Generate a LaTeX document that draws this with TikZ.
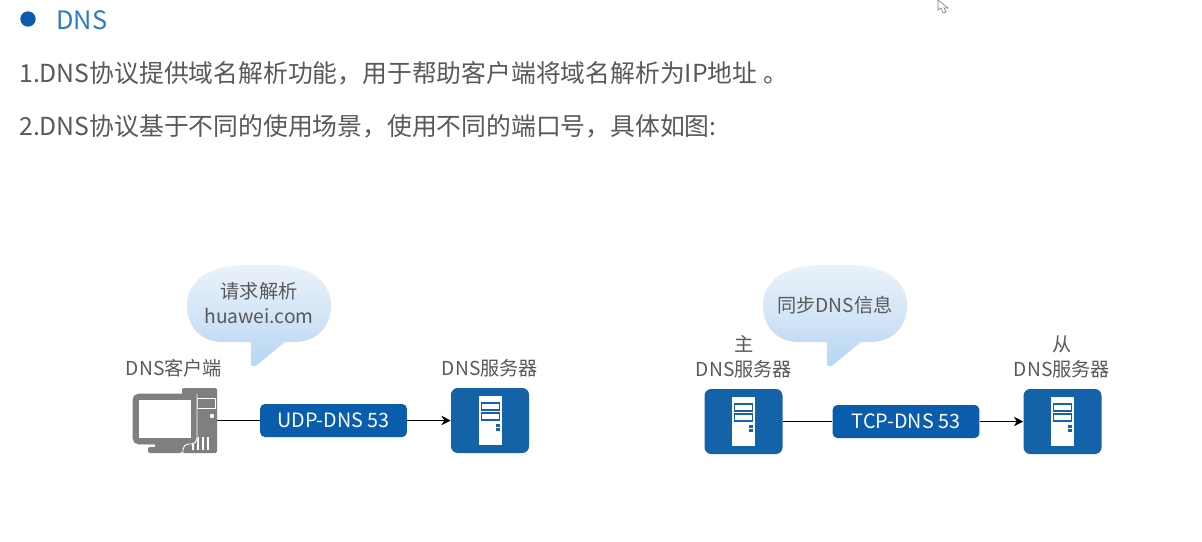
\documentclass[tikz,border=0pt]{standalone}
\usepackage{fontspec}
\setmainfont{Noto Sans CJK SC}
\usetikzlibrary{arrows.meta}
\definecolor{blu}{HTML}{0A5DAC}
\definecolor{srv}{HTML}{1463A9}
\definecolor{pcg}{HTML}{7F7F7F}
\definecolor{txt}{HTML}{595959}
\definecolor{hdr}{HTML}{2B7CC2}
\definecolor{btop}{HTML}{EAF2FA}
\definecolor{bmid}{HTML}{D3E5F6}
\definecolor{bbot}{HTML}{B4D5F3}
\tikzset{
 x=0.75pt,y=-0.75pt,
 pagetext/.style={anchor=west,inner sep=0pt,text=txt,font=\fontsize{18.6}{20}\selectfont},
 lab/.style={align=center,inner sep=0pt,text=txt,font=\fontsize{14.4}{18.5}\selectfont},
 tag/.style={fill=blu,rounded corners=3.5pt,inner sep=0pt,minimum width=110pt,minimum height=24.75pt,text=white,font=\fontsize{14.8}{16}\selectfont},
 srvbox/.style={fill=srv,rounded corners=5pt,inner sep=0pt,minimum width=58.5pt,minimum height=48.75pt},
 link/.style={draw=black,line width=1.3pt},
 arrowlink/.style={link,-{Stealth[length=7pt,width=7pt,inset=2.2pt]}},
 bubble/.style={top color=btop,bottom color=bbot,middle color=bmid,draw=none},
}
\newcommand{\servericon}[2]{%
 \begin{scope}[shift={(#1,#2)}]
  \fill[white] (-11.5,-24.5) rectangle (11.5,24.5);
  \draw[srv,line width=1pt,fill=white] (-9,-17.5) rectangle (9,-10.5);
  \draw[srv,line width=1pt,fill=white] (-9,-7.5) rectangle (9,-0.5);
  \fill[srv] (5,3.5) rectangle (9,6.5);
  \fill[srv] (5,7.5) rectangle (9,10);
 \end{scope}}
\newcommand{\speech}[3]{% left x, tail left, tail right
 \begin{scope}[shift={(#1,265)}]
  \shade[bubble] (36,77) .. controls (12,77) and (0,60) .. (0,40)
   .. controls (0,15) and (24,0) .. (58,0) -- (86,0)
   .. controls (120,0) and (144,15) .. (144,40)
   .. controls (144,62) and (130,77) .. (106,77)
   -- (#3,77) -- (71,99) .. controls (68,102) and (63,102) .. (#2,97) -- (#2,77) -- cycle;
 \end{scope}}
\begin{document}
\begin{tikzpicture}
\useasboundingbox (0,0) rectangle (1202,542);
\fill[white] (0,0) rectangle (1202,542);
% header
\node[circle,fill=blu,inner sep=0pt,minimum size=11.5pt] (bul) at (28,19) {};
\node[anchor=west,inner sep=0pt,text=hdr,font=\fontsize{19}{20}\selectfont] (hd) at (56,20) {DNS};
\node[pagetext] (l1) at (19,73) {1.DNS协议提供域名解析功能，用于帮助客户端将域名解析为IP地址 。};
\node[pagetext] (l2) at (19,126) {2.DNS协议基于不同的使用场景，使用不同的端口号，具体如图:};
% cursor
\draw[fill=white,draw=gray,line width=0.5pt] (938,0) -- (938,10) -- (941,8) -- (943,13) -- (946,12) -- (944,8) -- (948,8) -- cycle;
% bubbles
\speech{187}{64}{98}
\speech{763}{64}{98}
\node[lab] (bt1) at (259,303) {请求解析\\huawei.com};
\node[lab] (bt2) at (835,305) {同步DNS信息};
% computer
\node[inner sep=0pt,minimum width=63pt,minimum height=48.75pt] (pc) at (175,420.5) {};
\fill[pcg,rounded corners=1pt] (182,388) rectangle (217,453);
\draw[white,line width=.7pt] (197,398) rectangle (215,408);
\fill[white] (212,416) circle (2.2);
\foreach \vx in {193,198,203,208}{\draw[white,line width=.8pt] (\vx,437) -- (\vx,450);}
\fill[pcg] (155,442) rectangle (182,448);
\fill[pcg,rounded corners=1.5pt] (148,447) rectangle (182,453);
\draw[pcg,fill=pcg,rounded corners=4pt] (133,394) rectangle (197,444);
\draw[white,line width=.7pt,rounded corners=4pt] (197,394) -- (197,444) -- (183,444) -- (183,453);
\fill[white] (138.5,400) rectangle (191,438);
% servers
\node[srvbox] (s1) at (490,420.5) {};
\node[srvbox] (s2) at (743.5,421.5) {};
\node[srvbox] (s3) at (1062.5,421.5) {};
\servericon{490.5}{420.5}
\servericon{743.5}{421.5}
\servericon{1062.5}{421.5}
% labels
\node[lab] (n1) at (174,368) {DNS客户端};
\node[lab] (n2) at (490,368) {DNS服务器};
\node[lab] (n3) at (744,357) {主\\DNS服务器};
\node[lab] (n4) at (1062,357) {从\\DNS服务器};
% tags
\node[tag] (udp) at (333.5,420.5) {UDP-DNS 53};
\node[tag] (tcp) at (906,421.5) {TCP-DNS 53};
% connectors
\draw[link] (pc.east) -- (udp.west);
\draw[arrowlink] (udp.east) -- (s1.west);
\draw[link] (s2.east) -- (tcp.west);
\draw[arrowlink] (tcp.east) -- (s3.west);
\end{tikzpicture}
\end{document}
